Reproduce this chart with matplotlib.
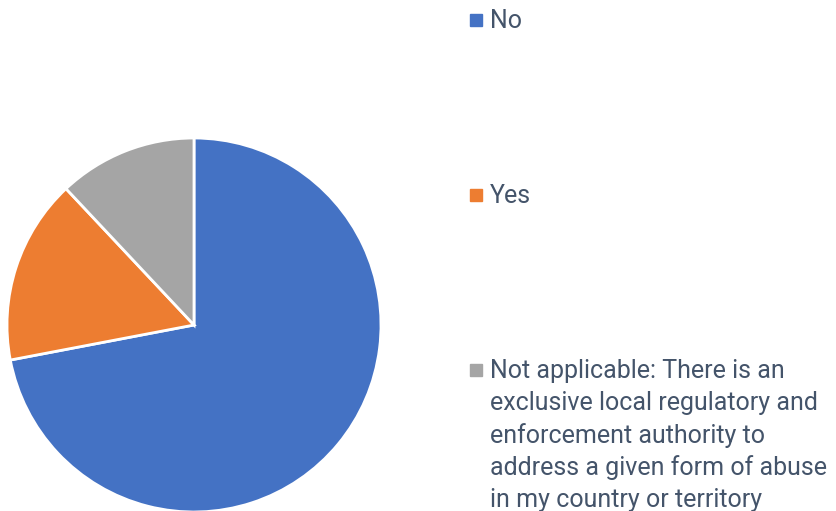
import matplotlib.pyplot as plt
from matplotlib.patches import Rectangle

labels = ['No', 'Yes',
          'Not applicable: There is an\nexclusive local regulatory and\nenforcement authority to\naddress a given form of abuse\nin my country or territory']
values = [72, 16, 12]
colors = ['#4472C4', '#ED7D31', '#A5A5A5']

W, H = 836, 511
fig = plt.figure(figsize=(W / 100, H / 100), dpi=100)

# pie centre ~ (194, 325) px, radius ~187 px
cx, cy, r = 194, 325, 187
ax = fig.add_axes([(cx - r) / W, (H - cy - r) / H, 2 * r / W, 2 * r / H])
ax.pie(values, colors=colors, startangle=90, counterclock=False, radius=1,
       wedgeprops={'edgecolor': 'white', 'linewidth': 2})
ax.set_xlim(-1, 1)
ax.set_ylim(-1, 1)
ax.set_aspect('equal')
ax.axis('off')

text_color = '#44546A'
legend_y = [20, 195, 370]
for lab, col, y in zip(labels, colors, legend_y):
    fig.add_artist(Rectangle((470 / W, 1 - (y + 6) / H), 12 / W, 12 / H,
                             transform=fig.transFigure, color=col))
    fig.text(490 / W, 1 - (y - 11) / H, lab, ha='left', va='top',
             fontsize=18, color=text_color, family='Roboto', linespacing=1.4)

fig.savefig('out.png', dpi=100)
